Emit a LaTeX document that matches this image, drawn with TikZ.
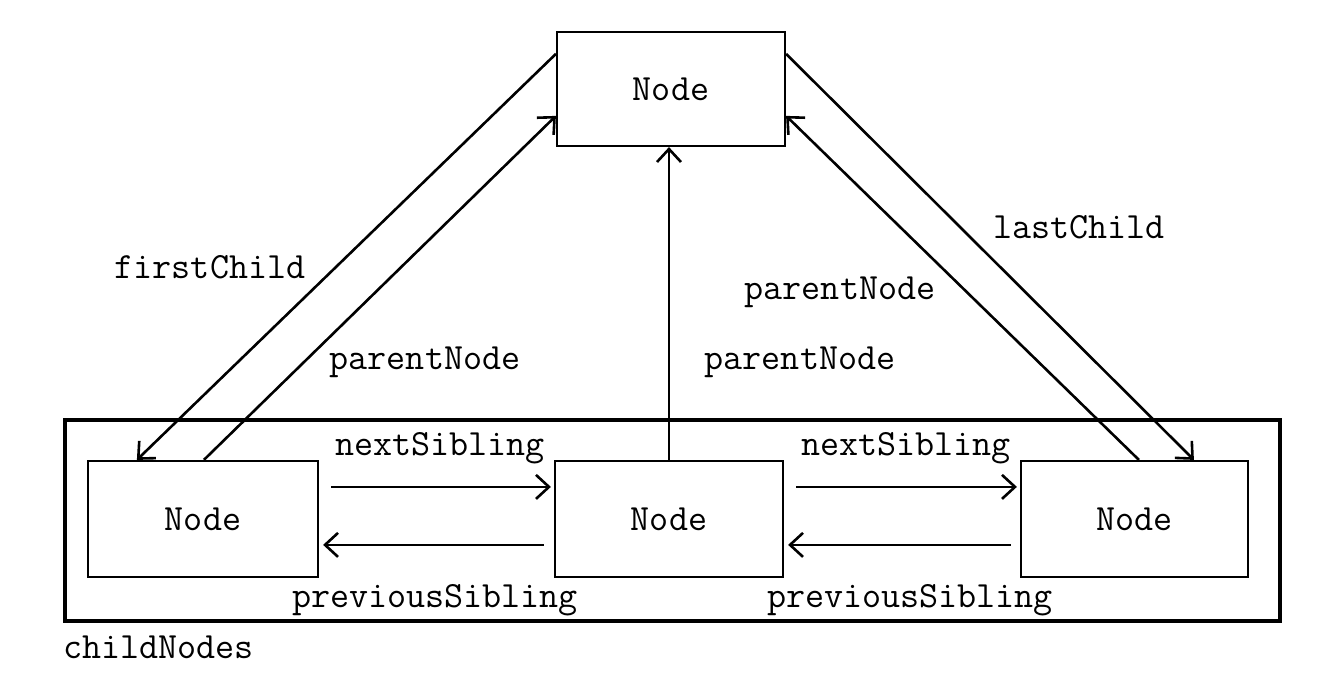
\documentclass[tikz,border=0pt]{standalone}
\usepackage{fontspec}
\usetikzlibrary{arrows.meta}
\begin{document}
\begin{tikzpicture}[x=0.5pt,y=-0.5pt,
  txt/.style={font=\ttfamily\fontsize{18.5}{22}\selectfont},
  box/.style={draw, line width=1.1pt, inner sep=0pt, txt},
  lab/.style={inner sep=0pt, txt},
  arr/.style={line width=1.3pt, -{Straight Barb[length=6.5pt,width=12pt,line width=1.3pt]}}]
\useasboundingbox (0,0) rectangle (1344,694);
% group frame
\node[draw, line width=2pt, minimum width=607.5pt, minimum height=100.5pt, inner sep=0pt] (group) at (672.5,520.5) {};
% nodes
\node[box, minimum width=114pt, minimum height=57pt] (top) at (671,89) {Node};
\node[box, minimum width=115pt, minimum height=58pt] (c1) at (203,519) {Node};
\node[box, minimum width=114pt, minimum height=58pt] (c2) at (669,519) {Node};
\node[box, minimum width=113.5pt, minimum height=58pt] (c3) at (1134.5,519) {Node};
% vertical connectors
\draw[arr] ([yshift=-11.5pt]top.north west) -- ([xshift=25pt]c1.north west);
\draw[arr] ([xshift=58.5pt]c1.north west) -- ([yshift=-42.5pt]top.north west);
\draw[arr] (c2.north) -- (c2.north |- top.south);
\draw[arr] ([xshift=59.5pt]c3.north west) -- ([yshift=-42.5pt]top.north east);
\draw[arr] ([yshift=-11.5pt]top.north east) -- ([xshift=87pt]c3.north west);
% sibling connectors
\draw[arr] ([shift={(6pt,-13.5pt)}]c1.north east) -- ([shift={(-1.5pt,-13.5pt)}]c2.north west);
\draw[arr] ([shift={(-5pt,-42.5pt)}]c2.north west) -- ([shift={(2pt,-42.5pt)}]c1.north east);
\draw[arr] ([shift={(6pt,-13.5pt)}]c2.north east) -- ([shift={(-1.5pt,-13.5pt)}]c3.north west);
\draw[arr] ([shift={(-4.5pt,-42.5pt)}]c3.north west) -- ([shift={(2pt,-42.5pt)}]c2.north east);
% labels
\node[lab] (lfc) at (210,267) {firstChild};
\node[lab] (lp1) at (425,362) {parentNode};
\node[lab] (lp2) at (800,362) {parentNode};
\node[lab] (lp3) at (840,292) {parentNode};
\node[lab] (llc) at (1079,227) {lastChild};
\node[lab] (ln1) at (440,448) {nextSibling};
\node[lab] (ln2) at (906,448) {nextSibling};
\node[lab] (lps1) at (435,600) {previousSibling};
\node[lab] (lps2) at (910,600) {previousSibling};
\node[lab, anchor=west] (lcn) at (63,647) {childNodes};
\end{tikzpicture}
\end{document}
